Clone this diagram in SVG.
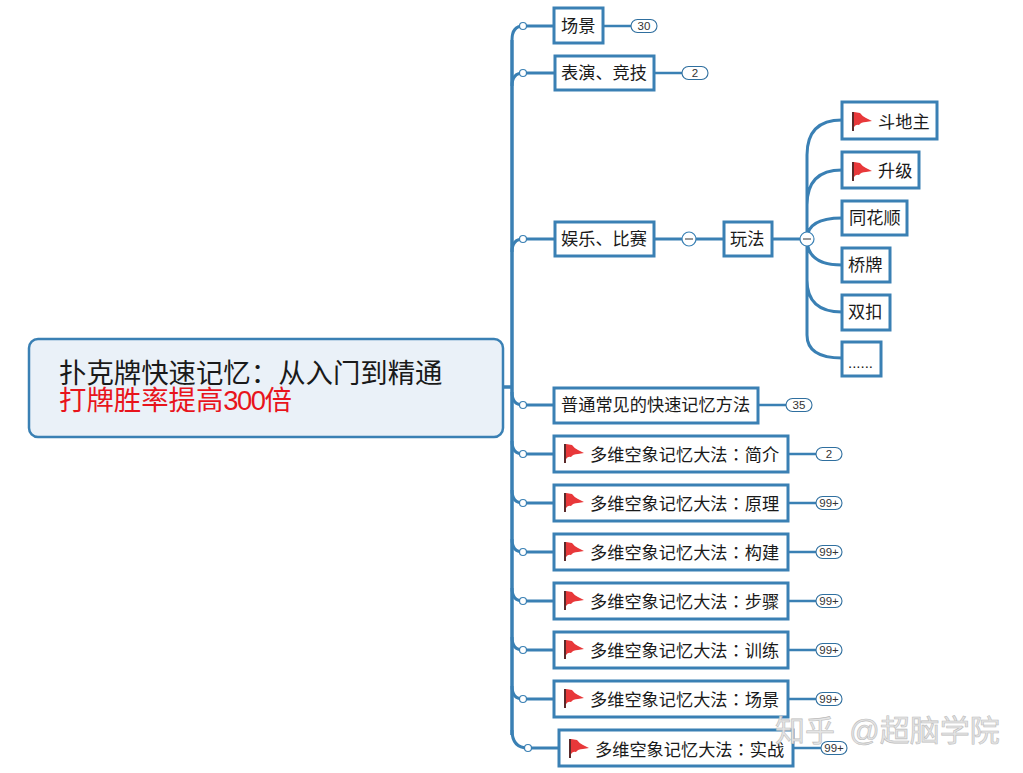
<svg xmlns="http://www.w3.org/2000/svg" width="1023" height="773" viewBox="0 0 1023 773">
<style>
text{font-family:"Liberation Sans","Noto Sans CJK SC",sans-serif;fill:#1a1a1a}
.n{fill:#fff;stroke:#3a80b4;stroke-width:3}
.t{font-size:17.2px}
.k{font-family:"Noto Sans CJK TC",sans-serif}
.c{fill:none;stroke:#3a80b4;stroke-width:3}
.c2{fill:none;stroke:#3a80b4;stroke-width:2.5}
.o{fill:#fff;stroke:#3a80b4;stroke-width:1.2}
.b{fill:#fff;stroke:#2f6f9f;stroke-width:1.1}
.bt{font-size:11.5px;text-anchor:middle;fill:#333}
.m{stroke:#333;stroke-width:1}
</style>
<defs>
<g id="flag">
<rect x="0" y="0" width="2" height="19" fill="#5a2a2a"/>
<path d="M2 0 L8 1 Q10 4 14 6 L20 9 L14 10 Q9 10 7 13 Q4 12 2 15Z" fill="#e8383a"/>
</g>
</defs>
<rect width="1023" height="773" fill="#fff"/>
<g id="connectors">
<path class="c" d="M503 387H512M512 40V735" style="stroke-width:3.500"/>
<path class="c" d="M512 40Q512 26 523 26H554M512 86Q512 73 523 73H555M512 252Q512 239 523 239H555M512 392Q512 405 523 405H554M512 441Q512 454 523 454H554M512 490Q512 503 523 503H554M512 539Q512 552 523 552H554M512 588Q512 601 523 601H554M512 637Q512 650 523 650H554M512 686Q512 699 523 699H554M512 730Q512 748 528 748H559"/>
<path class="c2" d="M603 26H631M654 73H682M758 405H786M788 454H816M788 503H816M788 552H816M788 601H816M788 650H816M788 699H816M793 748H821"/>
<path class="c" d="M654 239H724M772 239H807"/>
<path class="c" d="M842 120Q807 120 807 155V335Q807 358 842 358M842 170Q807 170 807 205M842 218Q807 218 807 239M807 239Q807 265 842 265M807 280Q807 312 842 312"/>
</g>
<g id="root"><rect x="29" y="339" width="474" height="98" rx="9" fill="#eaf1f8" stroke="#3a80b4" stroke-width="2.5"/>
<text x="59" y="383" font-size="27.4">扑克牌快速记忆：从入门到精通</text>
<text x="59" y="410" font-size="27.4" style="fill:#e8141c">打牌胜率提高<tspan letter-spacing="-1.500">300</tspan>倍</text></g>
<g id="n1"><rect class="n" x="554" y="8" width="49" height="35"/><text class="t" x="561" y="32">场景</text></g>
<g id="n2"><rect class="n" x="555" y="56" width="99" height="34"/><text class="t" x="561" y="79">表演、竞技</text></g>
<g id="n3"><rect class="n" x="555" y="222" width="99" height="34"/><text class="t" x="561" y="245">娱乐、比赛</text></g>
<g id="n4"><rect class="n" x="724" y="222" width="48" height="34"/><text class="t" x="730" y="245">玩法</text></g>
<g id="n5"><rect class="n" x="842" y="102" width="95" height="37"/><use href="#flag" x="852" y="112"/><text class="t" x="878" y="128">斗地主</text></g>
<g id="n6"><rect class="n" x="842" y="152" width="77" height="36"/><use href="#flag" x="852" y="162"/><text class="t" x="878" y="177">升级</text></g>
<g id="n7"><rect class="n" x="842" y="201" width="65" height="34"/><text class="t" x="849" y="224">同花顺</text></g>
<g id="n8"><rect class="n" x="842" y="248" width="48" height="34"/><text class="t" x="848" y="271">桥牌</text></g>
<g id="n9"><rect class="n" x="842" y="295" width="48" height="35"/><text class="t" x="848" y="318">双扣</text></g>
<g id="n10"><rect class="n" x="842" y="342" width="39" height="34"/><text class="t" x="848" y="368" style="font-size:15px">......</text></g>
<g id="n11"><rect class="n" x="554" y="388" width="204" height="35"/><text class="t" x="561" y="411">普通常见的快速记忆方法</text></g>
<g id="n12"><rect class="n" x="554" y="436" width="234" height="36"/><use href="#flag" x="564" y="444"/><text class="t" x="590" y="461">多维空象记忆大法<tspan class="k">：</tspan>简介</text></g>
<g id="n13"><rect class="n" x="554" y="485" width="234" height="36"/><use href="#flag" x="564" y="493"/><text class="t" x="590" y="510">多维空象记忆大法<tspan class="k">：</tspan>原理</text></g>
<g id="n14"><rect class="n" x="554" y="534" width="234" height="36"/><use href="#flag" x="564" y="542"/><text class="t" x="590" y="559">多维空象记忆大法<tspan class="k">：</tspan>构建</text></g>
<g id="n15"><rect class="n" x="554" y="583" width="234" height="36"/><use href="#flag" x="564" y="591"/><text class="t" x="590" y="608">多维空象记忆大法<tspan class="k">：</tspan>步骤</text></g>
<g id="n16"><rect class="n" x="554" y="632" width="234" height="36"/><use href="#flag" x="564" y="640"/><text class="t" x="590" y="657">多维空象记忆大法<tspan class="k">：</tspan>训练</text></g>
<g id="n17"><rect class="n" x="554" y="681" width="234" height="36"/><use href="#flag" x="564" y="689"/><text class="t" x="590" y="706">多维空象记忆大法<tspan class="k">：</tspan>场景</text></g>
<g id="n18"><rect class="n" x="559" y="730" width="234" height="36"/><use href="#flag" x="569" y="739"/><text class="t" x="595" y="756">多维空象记忆大法<tspan class="k">：</tspan>实战</text></g>
<g id="dots">
<circle class="o" cx="523" cy="26" r="3.5"/><circle class="o" cx="523" cy="73" r="3.5"/><circle class="o" cx="523" cy="239" r="3.5"/><circle class="o" cx="523" cy="405" r="3.5"/><circle class="o" cx="523" cy="454" r="3.5"/><circle class="o" cx="523" cy="503" r="3.5"/><circle class="o" cx="523" cy="552" r="3.5"/><circle class="o" cx="523" cy="601" r="3.5"/><circle class="o" cx="523" cy="650" r="3.5"/><circle class="o" cx="523" cy="699" r="3.5"/><circle class="o" cx="528" cy="748" r="3.5"/>
<circle class="o" cx="689" cy="239" r="7"/><path class="m" d="M685 239H693"/>
<circle class="o" cx="807" cy="239" r="7"/><path class="m" d="M803 239H811"/>
</g>
<g id="badges">
<rect class="b" x="631" y="19.500" width="26" height="13" rx="6.500"/><text class="bt" x="644" y="30">30</text>
<rect class="b" x="682" y="66.500" width="26" height="13" rx="6.500"/><text class="bt" x="695" y="77">2</text>
<rect class="b" x="786" y="398.500" width="26" height="13" rx="6.500"/><text class="bt" x="799" y="409">35</text>
<rect class="b" x="816" y="447.500" width="26" height="13" rx="6.500"/><text class="bt" x="829" y="458">2</text>
<rect class="b" x="816" y="496.500" width="26" height="13" rx="6.500"/><text class="bt" x="829" y="507">99+</text>
<rect class="b" x="816" y="545.500" width="26" height="13" rx="6.500"/><text class="bt" x="829" y="556">99+</text>
<rect class="b" x="816" y="594.500" width="26" height="13" rx="6.500"/><text class="bt" x="829" y="605">99+</text>
<rect class="b" x="816" y="643.500" width="26" height="13" rx="6.500"/><text class="bt" x="829" y="654">99+</text>
<rect class="b" x="816" y="692.500" width="26" height="13" rx="6.500"/><text class="bt" x="829" y="703">99+</text>
<rect class="b" x="821" y="741.500" width="26" height="13" rx="6.500"/><text class="bt" x="834" y="752">99+</text>
</g>
<g id="watermark"><text x="775" y="741" font-size="30" word-spacing="6" style="fill:#e4e4e4;stroke:#bdbdbd;stroke-width:.6">知乎 @超脑学院</text></g>
</svg>
